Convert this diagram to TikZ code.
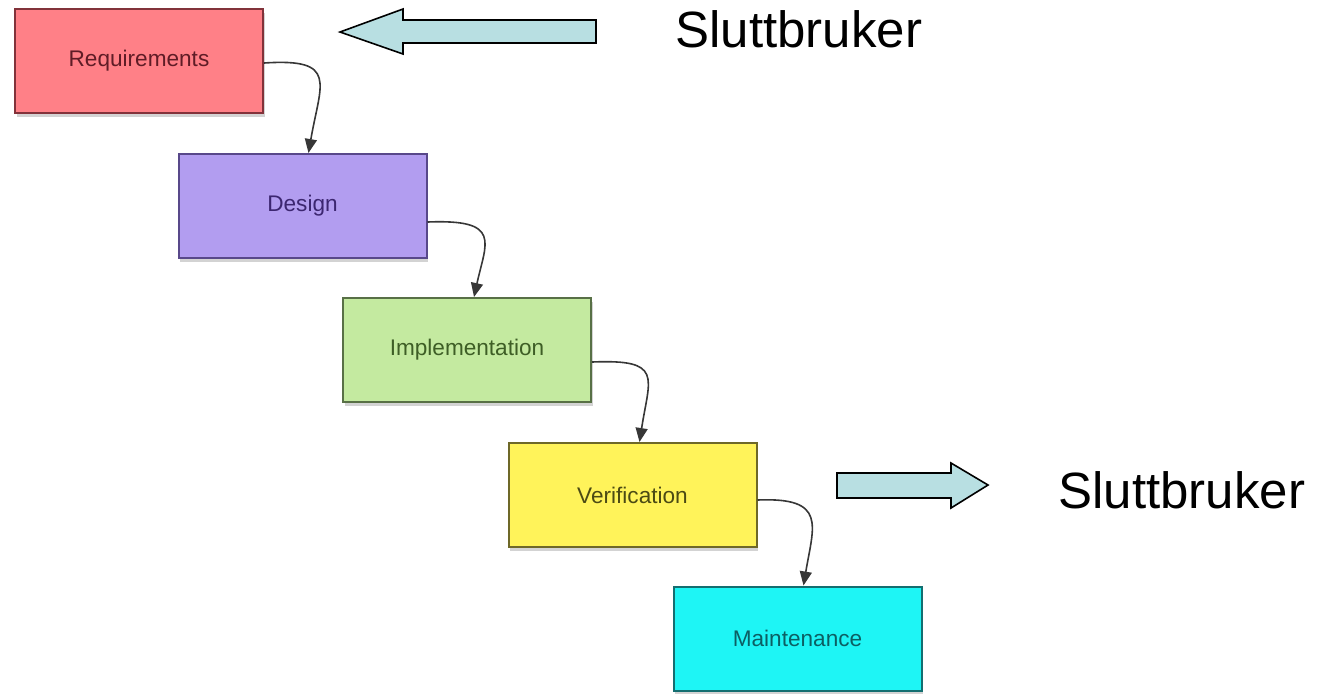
\documentclass[tikz,border=0pt]{standalone}
\usepackage{fontspec}
\setmainfont{Liberation Sans}
\usetikzlibrary{arrows.meta,shadows,calc}
\definecolor{reqfill}{RGB}{255,128,135}
\definecolor{reqdraw}{RGB}{130,50,58}
\definecolor{reqtext}{RGB}{95,28,38}
\definecolor{desfill}{RGB}{178,157,240}
\definecolor{desdraw}{RGB}{88,72,138}
\definecolor{destext}{RGB}{60,38,112}
\definecolor{impfill}{RGB}{196,234,160}
\definecolor{impdraw}{RGB}{88,112,70}
\definecolor{imptext}{RGB}{62,94,38}
\definecolor{verfill}{RGB}{255,243,90}
\definecolor{verdraw}{RGB}{110,104,40}
\definecolor{vertext}{RGB}{75,74,20}
\definecolor{mntfill}{RGB}{30,245,245}
\definecolor{mntdraw}{RGB}{20,110,112}
\definecolor{mnttext}{RGB}{12,95,99}
\definecolor{bigarrow}{RGB}{184,223,226}
\definecolor{conn}{RGB}{55,55,55}
\tikzset{
  phase/.style={draw, line width=1pt, minimum width=124pt, minimum height=52pt,
    inner sep=0pt, font=\fontsize{11.3pt}{13pt}\selectfont,
    drop shadow={shadow xshift=0.8pt, shadow yshift=-2.2pt, opacity=0.35}},
  flow/.style={conn, line width=0.8pt, -{Triangle[length=7pt,width=6pt]}},
  hollow/.style={draw=black, line width=0.8pt, fill=bigarrow, line join=miter},
  label/.style={font=\fontsize{25.5pt}{30pt}\selectfont, inner sep=0pt, anchor=base west}
}
\begin{document}
\begin{tikzpicture}[x=0.5pt,y=-0.5pt]
\useasboundingbox (0,0) rectangle (1325,693);
\node[phase, fill=reqfill, draw=reqdraw, text=reqtext] (R) at (139,61) {Requirements};
\node[phase, fill=desfill, draw=desdraw, text=destext] (D) at (302.5,206) {Design};
\node[phase, fill=impfill, draw=impdraw, text=imptext] (I) at (467,350) {Implementation};
\node[phase, fill=verfill, draw=verdraw, text=vertext] (V) at (632.5,495) {Verification};
\node[phase, fill=mntfill, draw=mntdraw, text=mnttext] (M) at (797.5,638.5) {Maintenance};

\draw[flow] ($(R.east)+(0,2)$) .. controls +(75,-5) and +(12,-70) .. ($(D.north)+(6,0)$);
\draw[flow] ($(D.east)+(0,16)$) .. controls +(75,-3) and +(12,-55) .. ($(I.north)+(7,0)$);
\draw[flow] ($(I.east)+(0,12)$) .. controls +(72,-3) and +(10,-65) .. ($(V.north)+(7,0)$);
\draw[flow] ($(V.east)+(0,5)$) .. controls +(70,-3) and +(10,-60) .. ($(M.north)+(6,0)$);

\draw[hollow] (340,32) -- (403,9) -- (403,20) -- (596,20) -- (596,43) -- (403,43) -- (403,54) -- cycle;
\draw[hollow] (988,485) -- (951,463) -- (951,473) -- (837,473) -- (837,498) -- (951,498) -- (951,508) -- cycle;

\node[label] (S1) at (675,47) {Sluttbruker};
\node[label] (S2) at (1058,508) {Sluttbruker};
\end{tikzpicture}
\end{document}
